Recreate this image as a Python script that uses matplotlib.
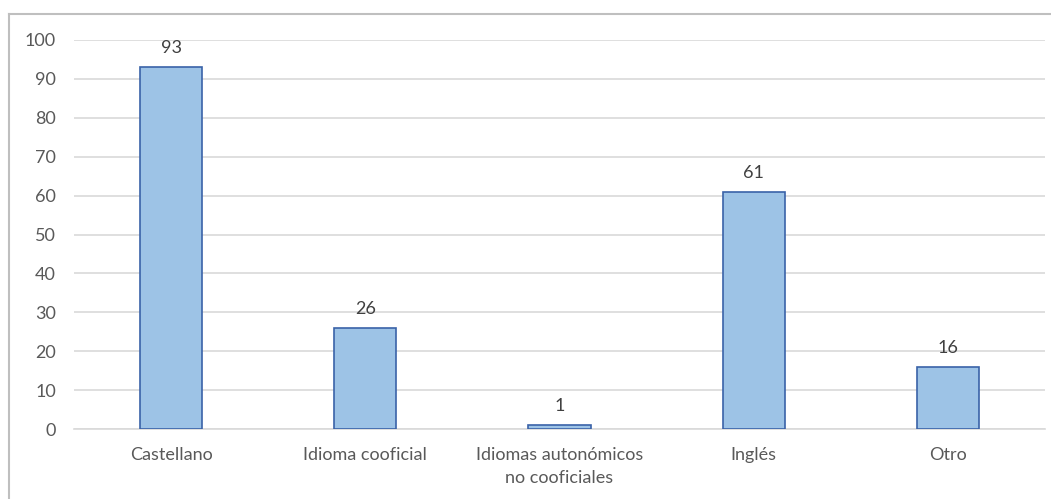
import matplotlib.pyplot as plt
from matplotlib.lines import Line2D

categorias = ['Castellano', 'Idioma cooficial', 'Idiomas autonómicos\nno cooficiales', 'Inglés', 'Otro']
valores = [93, 26, 1, 61, 16]
yticks = [0, 10, 20, 30, 40, 50, 60, 70, 80, 90, 100]

plt.rcParams['font.family'] = ['Lato', 'DejaVu Sans']
gris = '#595959'

fig = plt.figure(figsize=(10.51, 4.99), dpi=100)
ax = fig.add_axes([74 / 1051, 70 / 499, (1045 - 74) / 1051, (429 - 40) / 499])

x = range(len(categorias))
barras = ax.bar(x, valores, width=0.32, color='#9DC3E6', edgecolor='#3A62A8', linewidth=1.2, zorder=3)
for xi, v in zip(x, valores):
    ax.annotate(str(v), (xi, v), xytext=(0, 8), textcoords='offset points',
                ha='center', va='bottom', fontsize=13, color='#404040')

ax.set_xlim(-0.5, len(categorias) - 0.5)
ax.set_ylim(0, 100)
ax.set_yticks(yticks)
ax.set_xticks(list(x))
ax.set_xticklabels(categorias, linespacing=1.55)
ax.yaxis.grid(True, color='#D9D9D9', linewidth=1.2, zorder=0)
ax.tick_params(axis='both', length=0, labelsize=13, labelcolor=gris)
ax.tick_params(axis='y', pad=13)
ax.tick_params(axis='x', pad=13)
for s in ['top', 'right', 'left']:
    ax.spines[s].set_visible(False)
ax.spines['bottom'].set_color('#D9D9D9')
ax.spines['bottom'].set_linewidth(1.2)

# borde del área del gráfico
fig.add_artist(Line2D([9 / 1051, 9 / 1051], [0, 1 - 14 / 499], color='#BFBFBF', lw=1.5))
fig.add_artist(Line2D([9 / 1051, 1], [1 - 14 / 499, 1 - 14 / 499], color='#BFBFBF', lw=1.5))

fig.savefig('out.png', dpi=100)
